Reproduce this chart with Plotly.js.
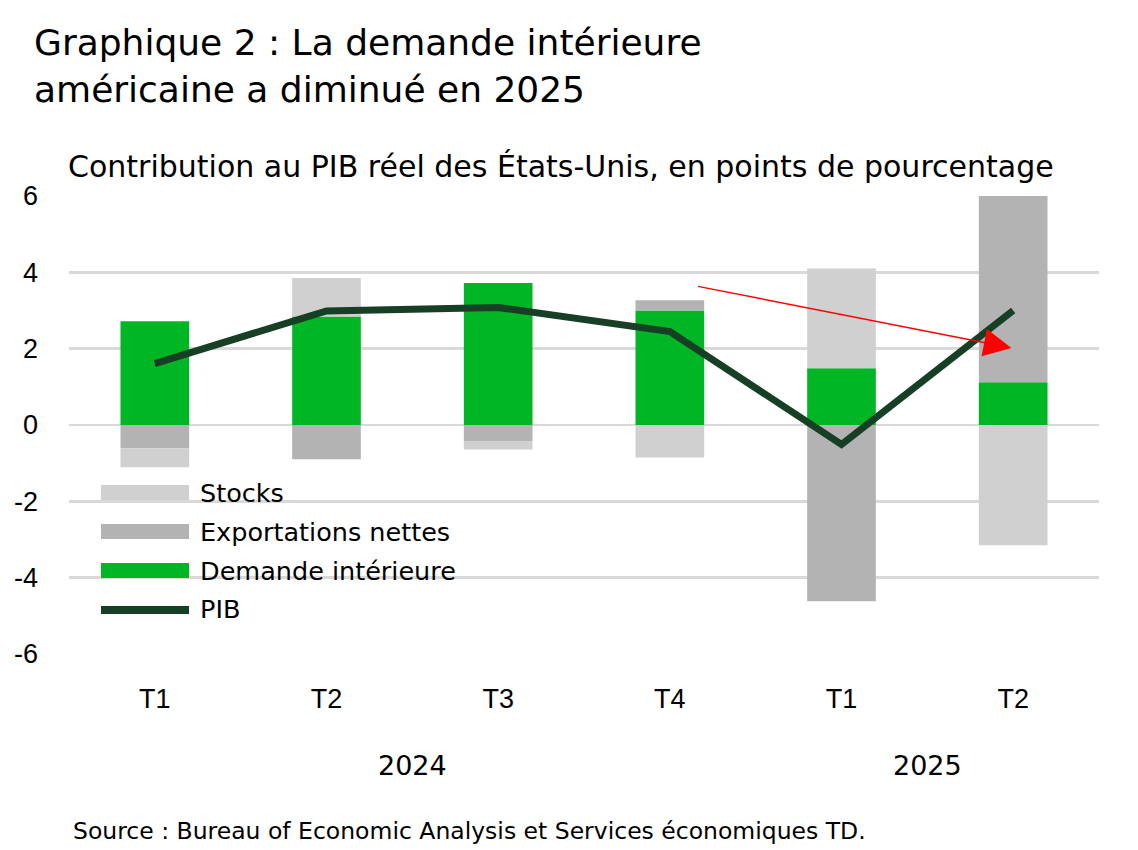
<!DOCTYPE html>
<html>
<head>
<meta charset="utf-8">
<script src="https://cdn.plot.ly/plotly-3.0.1.min.js"></script>
<style>html,body{margin:0;padding:0;background:#fff;}#chart{width:1138px;height:850px;}</style>
</head>
<body>
<div id="chart"></div>
<script>
const quarters = ["T1", "T2", "T3", "T4", "T1", "T2"];
const years = ["2024", "2025"];
const demandeInterieure = [2.72, 2.84, 3.72, 3.00, 1.49, 1.12];
const exportationsNettes = [-0.61, -0.90, -0.43, 0.27, -4.62, 5.0];
const stocks = [-0.50, 1.01, -0.21, -0.85, 2.61, -3.15];
const pib = [1.61, 2.99, 3.08, 2.45, -0.51, 3.00];
const yTicks = [-6, -4, -2, 0, 2, 4, 6];

const xIdx = quarters.map((_, i) => i);
const FONT = "'DejaVu Sans', sans-serif";
const TICKFONT = "'Liberation Sans', Arial, sans-serif";
const XTICKFONT = "'Liberation Sans Narrow', 'Liberation Sans', Arial, sans-serif";
const cGreen = "#00b624", cDark = "#b3b3b3", cLight = "#d0d0d0", cLine = "#173f25";

const traces = [
  {type: "bar", name: "Demande intérieure", x: xIdx, y: demandeInterieure, marker: {color: cGreen}, showlegend: false, hoverinfo: "y"},
  {type: "bar", name: "Exportations nettes", x: xIdx, y: exportationsNettes, marker: {color: cDark}, showlegend: false, hoverinfo: "y"},
  {type: "bar", name: "Stocks", x: xIdx, y: stocks, marker: {color: cLight}, showlegend: false, hoverinfo: "y"},
  {type: "scatter", mode: "lines", name: "PIB", x: xIdx, y: pib, line: {color: cLine, width: 7}, showlegend: false, cliponaxis: false}
];

const legendItems = [
  {label: "Stocks", color: cLight, kind: "bar", y: 493},
  {label: "Exportations nettes", color: cDark, kind: "bar", y: 532},
  {label: "Demande intérieure", color: cGreen, kind: "bar", y: 571},
  {label: "PIB", color: cLine, kind: "line", y: 609}
];
const H = 850, W = 1138;
const plotTop = 196, plotBot = 654, plotL = 69, plotW = 1030;
function py(pix) { return (plotBot - pix) / (plotBot - plotTop); }
function px(pix) { return (pix - plotL) / plotW; }
const shapes = [];
const annotations = [];
legendItems.forEach(it => {
  if (it.kind === "bar") {
    shapes.push({type: "rect", xref: "paper", yref: "paper", x0: px(101), x1: px(189),
      y0: py(it.y - 8), y1: py(it.y + 7), fillcolor: it.color, line: {width: 0}, layer: "above"});
  } else {
    shapes.push({type: "line", xref: "paper", yref: "paper", x0: px(101), x1: px(189),
      y0: py(it.y + 1), y1: py(it.y + 1), line: {color: it.color, width: 8}, layer: "above"});
  }
  annotations.push({xref: "paper", yref: "paper", x: px(198), y: py(it.y), xanchor: "left", yanchor: "middle",
    text: it.label, showarrow: false, font: {family: FONT, size: 25.5, color: "#000"}});
});

annotations.push({xref: "x", yref: "paper", x: 1.5, y: py(765), text: years[0], showarrow: false, yanchor: "middle",
  font: {family: FONT, size: 27, color: "#000"}});
annotations.push({xref: "x", yref: "paper", x: 4.5, y: py(765), text: years[1], showarrow: false, yanchor: "middle",
  font: {family: FONT, size: 27, color: "#000"}});
annotations.push({xref: "paper", yref: "paper", x: px(66), y: py(167), xanchor: "left", yanchor: "middle",
  text: "Contribution au PIB réel des États-Unis, en points de pourcentage", showarrow: false,
  font: {family: FONT, size: 30, color: "#000"}});
annotations.push({xref: "paper", yref: "paper", x: px(71), y: py(831), xanchor: "left", yanchor: "middle",
  text: "Source : Bureau of Economic Analysis et Services économiques TD.", showarrow: false,
  font: {family: FONT, size: 23.5, color: "#000"}});
annotations.push({xref: "x", yref: "y", axref: "x", ayref: "y", x: 4.99, y: 2.02, ax: 3.155, ay: 3.64,
  text: "", showarrow: true, arrowhead: 2, arrowsize: 3.7, arrowwidth: 1.5, arrowcolor: "#ff0000"});

const layout = {
  width: W, height: H,
  margin: {l: 69, r: 39, t: 196, b: 196},
  paper_bgcolor: "#fff", plot_bgcolor: "#fff",
  barmode: "relative", bargap: 0.6,
  showlegend: false,
  font: {family: FONT, color: "#000"},
  title: {text: "Graphique 2 : La demande intérieure<br>américaine a diminué en 2025", x: 34 / W, xanchor: "left",
    y: 1 - 55 / H, yanchor: "middle", font: {family: FONT, size: 36, color: "#000"}},
  xaxis: {range: [-0.5, 5.5], tickvals: xIdx, ticktext: quarters, showgrid: false, zeroline: false, showline: false,
    ticks: "", tickfont: {family: XTICKFONT, size: 27, color: "#000"}, ticklabelstandoff: 26, fixedrange: true},
  yaxis: {range: [-6, 6], tickvals: yTicks, ticktext: yTicks.map(String), showgrid: true, gridcolor: "#d9d9d9", gridwidth: 2.5,
    zeroline: true, zerolinecolor: "#d9d9d9", zerolinewidth: 2.5, showline: false, ticks: "",
    tickfont: {family: TICKFONT, size: 27, color: "#000"}, ticklabelstandoff: 30, fixedrange: true},
  shapes: shapes,
  annotations: annotations
};

Plotly.newPlot("chart", traces, layout, {displayModeBar: false, staticPlot: true});
</script>
</body>
</html>
